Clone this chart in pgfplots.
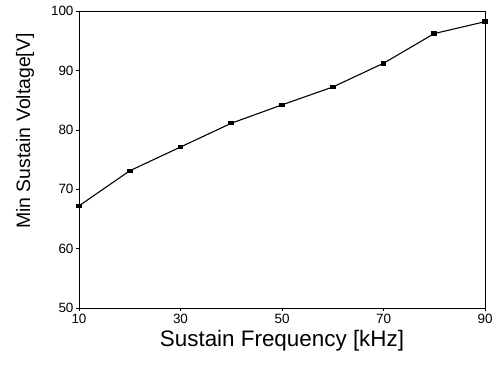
\documentclass[border=0pt]{standalone}
\usepackage{pgfplots}
\pgfplotsset{compat=1.18}
\usepackage{fontspec}
\setmainfont{Liberation Sans}
\begin{document}
\begin{tikzpicture}[x=1bp,y=1bp]
\path[use as bounding box] (-79,-56) rectangle (417,308);
\begin{axis}[
  at={(0,0)}, anchor=south west,
  scale only axis, width=406bp, height=297bp,
  xmin=10, xmax=90, ymin=50, ymax=100,
  xtick={10,30,50,70,90},
  ytick={50,60,70,80,90,100},
  tick pos=left, tick align=outside,
  major tick length=3bp,
  axis line style={line width=0.7pt},
  every tick/.style={black, line width=0.6pt},
  /pgf/number format/assume math mode=true,
  tick label style={font=\fontsize{13.5}{15}\selectfont},
  yticklabel style={xshift=1bp},
  xlabel={Sustain Frequency [kHz]},
  ylabel={Min Sustain Voltage[V]},
  xlabel style={font=\fontsize{22.5}{26}\selectfont, yshift=1bp},
  ylabel style={font=\fontsize{19.5}{23}\selectfont, at={(ticklabel cs:0.596)}, yshift=10bp},
]
\addplot[black, line width=1.1pt, mark=square*, mark size=2.4bp, mark options={yscale=0.7}] coordinates {
(10,67.2) (20,73.1) (30,77.1) (40,81.1) (50,84.2) (60,87.2) (70,91.2) (80,96.2) (90,98.2)
};
\end{axis}
\end{tikzpicture}
\end{document}
